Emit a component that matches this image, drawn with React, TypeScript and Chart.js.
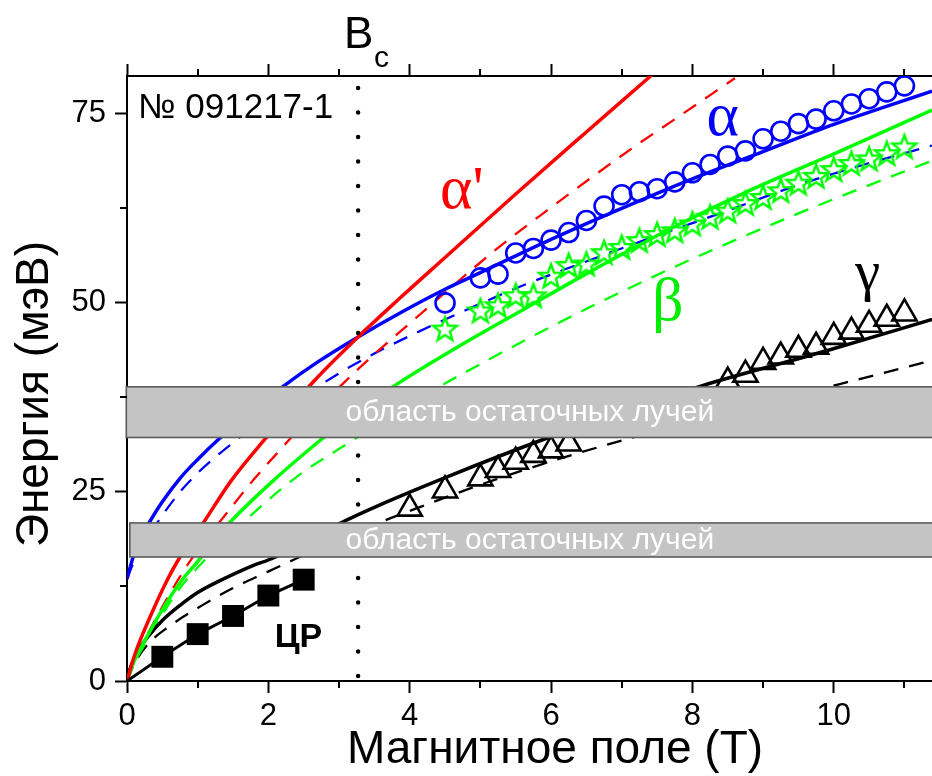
import React, { useEffect, useRef } from 'react';
import { Chart, registerables } from 'chart.js';
Chart.register(...registerables);

// ---------- axes ----------
const X_MIN = 0;
const X_MAX = 11.39;
const Y_MIN = 0;
const Y_MAX = 80;
const xMajorTicks = [0, 2, 4, 6, 8, 10];
const xMinorTicks = [1, 3, 5, 7, 9, 11];
const yMajorTicks = [0, 25, 50, 75];
const yMinorTicks = [12.5, 37.5, 62.5];
const BC_FIELD = 3.27;

// ---------- theory curves ----------
const alphaSolidX = [0, 0.1, 0.2, 0.35, 0.5, 0.75, 1.0, 1.3, 1.75, 2.2, 2.7, 3.27, 3.87, 4.5, 5.0, 6.0, 7.0, 8.0, 9.0, 10.0, 11.39];
const alphaSolidY = [13.5, 16.8, 19.0, 21.5, 23.7, 26.8, 29.3, 32.0, 35.6, 38.9, 42.2, 45.5, 48.7, 51.8, 54.0, 58.4, 62.5, 66.4, 70.0, 73.6, 78.0];

const alphaDashX = [0, 0.1, 0.25, 0.5, 0.75, 1.0, 1.25, 1.5, 2.0, 2.69, 3.11, 3.5, 4.06, 4.5, 5.0, 5.6, 6.65, 7.5, 8.5, 9.5, 10.4, 11.39];
const alphaDashY = [13.5, 15.8, 18.3, 21.9, 25.0, 27.5, 29.6, 31.5, 35.2, 38.9, 41.3, 43.3, 45.9, 47.8, 49.9, 52.3, 56.0, 58.9, 62.2, 65.6, 68.2, 70.8];

const alphaPrimeSolidX = [0, 0.1, 0.2, 0.37, 0.55, 0.75, 1.08, 1.46, 1.98, 2.64, 3.27, 3.87, 4.5, 5.5, 6.5, 7.41, 7.7];
const alphaPrimeSolidY = [0, 3.2, 5.7, 9.4, 13.0, 16.4, 20.9, 26.3, 32.3, 39.6, 45.5, 50.7, 56.0, 64.4, 72.6, 80.0, 82.3];

const alphaPrimeDashX = [0, 0.1, 0.25, 0.5, 0.75, 1.0, 1.36, 1.79, 2.17, 2.7, 3.3, 4.1, 5.24, 5.94, 7.17, 7.69, 8.6];
const alphaPrimeDashY = [0, 2.8, 5.5, 9.8, 13.8, 17.3, 21.6, 26.6, 30.6, 36.0, 41.5, 48.1, 57.2, 62.2, 70.6, 73.9, 79.7];

const betaSolidX = [0, 0.1, 0.25, 0.51, 0.75, 1.0, 1.41, 2.0, 2.73, 3.3, 3.91, 4.72, 5.66, 6.51, 7.69, 8.82, 10.1, 11.39];
const betaSolidY = [0, 2.6, 5.3, 9.6, 13.0, 15.8, 20.5, 25.9, 31.8, 36.0, 39.8, 44.4, 49.4, 53.9, 59.8, 64.9, 70.1, 75.5];

const betaDashX = [0, 0.1, 0.25, 0.5, 0.75, 1.0, 1.4, 2.17, 2.55, 3.02, 3.8, 4.53, 4.9, 5.7, 6.65, 7.64, 8.26, 9.44, 10.4, 11.39];
const betaDashY = [0, 2.3, 4.8, 8.8, 12.3, 15.0, 18.8, 25.3, 28.0, 30.8, 35.4, 39.5, 41.4, 45.4, 49.9, 54.3, 56.9, 61.6, 65.2, 68.8];

const gammaSolidX = [0, 0.05, 0.15, 0.3, 0.5, 0.75, 1.0, 1.3, 1.79, 2.0, 2.3, 3.0, 3.58, 4.53, 5.85, 7.0, 8.12, 9.91, 11.39];
const gammaSolidY = [0, 1.8, 3.9, 5.9, 8.0, 10.0, 11.7, 13.2, 15.3, 16.0, 17.3, 20.8, 23.3, 27.0, 31.8, 35.6, 39.0, 43.7, 47.8];

const gammaDashX = [0, 0.1, 0.3, 0.61, 1.08, 1.46, 1.98, 2.35, 3.0, 4.2, 5.2, 6.23, 7.08, 8.5, 10.1, 11.39];
const gammaDashY = [0, 2.2, 4.9, 7.3, 10.1, 12.1, 14.4, 16.0, 18.8, 23.2, 26.6, 29.7, 32.0, 35.6, 39.3, 42.4];

// ---------- experimental points ----------
const alphaExpX = [4.5, 5.0, 5.25, 5.5, 5.75, 6.0, 6.25, 6.5, 6.75, 7.0, 7.25, 7.5, 7.75, 8.0, 8.25, 8.5, 8.75, 9.0, 9.25, 9.5, 9.75, 10.0, 10.25, 10.5, 10.75, 11.0];
const alphaExpY = [50.0, 53.3, 53.8, 56.6, 57.2, 58.3, 59.3, 60.9, 62.8, 64.3, 64.7, 65.1, 66.0, 67.2, 68.3, 69.4, 70.1, 71.7, 72.7, 73.7, 74.3, 75.4, 76.3, 77.0, 77.9, 78.7];

const betaExpX = [4.5, 5.0, 5.25, 5.5, 5.75, 6.0, 6.25, 6.5, 6.75, 7.0, 7.25, 7.5, 7.75, 8.0, 8.25, 8.5, 8.75, 9.0, 9.25, 9.5, 9.75, 10.0, 10.25, 10.5, 10.75, 11.0];
const betaExpY = [46.6, 49.0, 49.7, 51.0, 51.0, 53.6, 55.0, 55.2, 56.7, 57.4, 58.3, 59.1, 59.6, 60.5, 61.4, 62.2, 63.2, 64.0, 64.9, 65.9, 66.8, 67.7, 68.5, 69.1, 69.8, 70.7];

const gammaExpX = [4.0, 4.5, 5.0, 5.25, 5.5, 5.75, 6.0, 6.25, 8.5, 8.75, 9.0, 9.25, 9.5, 9.75, 10.0, 10.25, 10.5, 10.75, 11.0];
const gammaExpY = [22.8, 25.2, 26.8, 27.9, 29.0, 29.9, 30.5, 31.4, 39.6, 40.5, 42.2, 42.9, 43.8, 44.2, 45.5, 46.2, 47.1, 47.9, 48.6];

const crX = [0, 0.5, 1.0, 1.5, 2.0, 2.5];
const crY = [0, 3.2, 6.2, 8.6, 11.3, 13.4];

// ---------- reststrahlen bands ----------
const bandStartX = [-0.01, 0.04];
const bandLowY = [32.2, 16.4];
const bandHighY = [38.9, 20.9];
const bandLabel = 'область остаточных лучей';
const bandLabelX = 5.7;

// ---------- text ----------
const SANS = "'Liberation Sans', Arial, sans-serif";
const SERIF = "'Liberation Serif', 'Times New Roman', serif";

const zip = (xs: number[], ys: number[]) => xs.map((x, i) => ({ x, y: ys[i] }));

function makeStar(color: string, R: number, lw: number) {
  const size = Math.ceil(2 * R + 2 * lw + 2);
  const c = document.createElement('canvas');
  c.width = size;
  c.height = size;
  const ctx = c.getContext('2d')!;
  const cx = size / 2;
  const cy = size / 2 + R * 0.1;
  const r = R * 0.42;
  ctx.beginPath();
  for (let i = 0; i < 10; i++) {
    const a = -Math.PI / 2 + (i * Math.PI) / 5;
    const rad = i % 2 === 0 ? R : r;
    const px = cx + rad * Math.cos(a);
    const py = cy + rad * Math.sin(a);
    if (i === 0) ctx.moveTo(px, py);
    else ctx.lineTo(px, py);
  }
  ctx.closePath();
  ctx.lineJoin = 'miter';
  ctx.lineWidth = lw;
  ctx.strokeStyle = color;
  ctx.stroke();
  return c;
}

const overlayPlugin = {
  id: 'overlay',
  afterDatasetsDraw(chart: any) {
    const { ctx, scales } = chart;
    const x = scales.x;
    const y = scales.y;
    ctx.save();
    for (let i = 0; i < bandStartX.length; i++) {
      const x0 = x.getPixelForValue(bandStartX[i]);
      const x1 = chart.width + 10;
      const y0 = y.getPixelForValue(bandHighY[i]);
      const y1 = y.getPixelForValue(bandLowY[i]);
      ctx.fillStyle = '#c4c4c4';
      ctx.fillRect(x0, y0, x1 - x0, y1 - y0);
      ctx.strokeStyle = '#5c5c5c';
      ctx.lineWidth = 1.6;
      ctx.strokeRect(x0, y0, x1 - x0, y1 - y0);
      ctx.fillStyle = '#ffffff';
      ctx.font = `30px ${SANS}`;
      ctx.textAlign = 'center';
      ctx.textBaseline = 'middle';
      ctx.fillText(bandLabel, x.getPixelForValue(bandLabelX), (y0 + y1) / 2 + 1);
    }
    ctx.restore();
  },
  afterDraw(chart: any) {
    const { ctx, scales, chartArea } = chart;
    const x = scales.x;
    const y = scales.y;
    ctx.save();
    // minor ticks
    ctx.strokeStyle = '#000';
    ctx.lineWidth = 2;
    ctx.beginPath();
    for (const v of xMinorTicks) {
      const px = Math.round(x.getPixelForValue(v));
      ctx.moveTo(px, chartArea.bottom);
      ctx.lineTo(px, chartArea.bottom + 7);
      ctx.moveTo(px, chartArea.top);
      ctx.lineTo(px, chartArea.top - 7);
    }
    for (const v of yMinorTicks) {
      const py = Math.round(y.getPixelForValue(v));
      ctx.moveTo(chartArea.left, py);
      ctx.lineTo(chartArea.left - 7, py);
    }
    ctx.stroke();

    // axis titles
    ctx.fillStyle = '#000';
    ctx.font = `46px ${SANS}`;
    ctx.textAlign = 'center';
    ctx.textBaseline = 'alphabetic';
    ctx.fillText('Магнитное поле (Т)', 555, 763);
    ctx.save();
    ctx.translate(48, 394);
    ctx.rotate(-Math.PI / 2);
    ctx.fillText('Энергия (мэВ)', 0, 0);
    ctx.restore();

    // B_c label
    ctx.textAlign = 'left';
    ctx.font = `44px ${SANS}`;
    const bcx = x.getPixelForValue(BC_FIELD) - 14;
    ctx.fillText('B', bcx, 48);
    ctx.font = `30px ${SANS}`;
    ctx.fillText('c', bcx + 30, 67);

    // sample number
    ctx.font = `35px ${SANS}`;
    ctx.fillText('№ 091217-1', chartArea.left + 11, 118);

    // branch labels
    ctx.font = `62px ${SERIF}`;
    ctx.fillStyle = '#ff0000';
    ctx.fillText("α'", x.getPixelForValue(4.43), y.getPixelForValue(62.5));
    ctx.fillStyle = '#0000ff';
    ctx.fillText('α', x.getPixelForValue(8.2), y.getPixelForValue(72.2));
    ctx.fillStyle = '#00ee00';
    ctx.fillText('β', x.getPixelForValue(7.43), y.getPixelForValue(47.7));
    ctx.fillStyle = '#000';
    ctx.font = `57px ${SERIF}`;
    ctx.fillText('γ', x.getPixelForValue(10.3), y.getPixelForValue(51.7));
    ctx.font = `bold 34px ${SANS}`;
    ctx.fillText('ЦР', x.getPixelForValue(2.09), y.getPixelForValue(4.5));
    ctx.restore();
  },
};

export default function App() {
  const ref = useRef<HTMLCanvasElement>(null);
  useEffect(() => {
    const star = makeStar('#00ff00', 12.5, 2.4);
    const line = (data: any, color: string, width: number, dash: number[] | null, order: number) => ({
      data,
      borderColor: color,
      borderWidth: width,
      borderDash: dash || [],
      pointRadius: 0,
      fill: false,
      cubicInterpolationMode: 'monotone',
      order,
    });
    const tickFont = { family: SANS, size: 31 };
    const setXTicks = (s: any) => {
      s.ticks = xMajorTicks.map((v) => ({ value: v }));
    };
    const fitX = (h: number) => (s: any) => {
      s.height = h;
      s.paddingLeft = 0;
      s.paddingRight = 0;
    };
    const chart = new Chart(ref.current!, {
      type: 'line',
      data: {
        datasets: [
          {
            data: zip(alphaExpX, alphaExpY),
            showLine: false,
            pointStyle: 'circle',
            pointRadius: 9.5,
            pointBorderWidth: 2.6,
            pointBorderColor: '#0000ff',
            pointBackgroundColor: 'rgba(0,0,0,0)',
            order: 1,
          },
          {
            data: zip(betaExpX, betaExpY),
            showLine: false,
            pointStyle: star,
            pointRadius: 12,
            order: 1,
          },
          {
            data: zip(gammaExpX, gammaExpY),
            showLine: false,
            pointStyle: 'triangle',
            pointRadius: 14,
            pointBorderWidth: 2.6,
            pointBorderColor: '#000',
            pointBackgroundColor: 'rgba(0,0,0,0)',
            order: 1,
          },
          {
            data: zip(crX, crY),
            borderColor: '#000',
            borderWidth: 3,
            tension: 0,
            pointStyle: 'rect',
            pointRadius: (c: any) => (c.dataIndex === 0 ? 0 : 15.5),
            pointBorderWidth: 0,
            pointBackgroundColor: '#000',
            order: 2,
          },
          line(zip(alphaPrimeSolidX, alphaPrimeSolidY), '#ff0000', 3.5, null, 5),
          line(zip(alphaPrimeDashX, alphaPrimeDashY), '#ff0000', 2.3, [15, 11], 6),
          line(zip(alphaSolidX, alphaSolidY), '#0000ff', 3.5, null, 5),
          line(zip(alphaDashX, alphaDashY), '#0000ff', 2.3, [15, 11], 6),
          line(zip(betaSolidX, betaSolidY), '#00ff00', 3.5, null, 5),
          line(zip(betaDashX, betaDashY), '#00ff00', 2.3, [15, 11], 6),
          line(zip(gammaSolidX, gammaSolidY), '#000000', 3.5, null, 5),
          line(zip(gammaDashX, gammaDashY), '#000000', 2.3, [15, 11], 6),
          {
            data: [
              { x: BC_FIELD, y: Y_MIN },
              { x: BC_FIELD, y: Y_MAX },
            ],
            borderColor: '#000',
            borderWidth: 4.5,
            borderDash: [0, 24.5],
            borderDashOffset: 19.5,
            borderCapStyle: 'round',
            pointRadius: 0,
            order: 3,
          },
        ] as any,
      },
      options: {
        animation: false,
        responsive: false,
        layout: { padding: 0, autoPadding: false },
        plugins: { legend: { display: false }, tooltip: { enabled: false } },
        scales: {
          x: {
            type: 'linear',
            position: 'bottom',
            min: X_MIN,
            max: X_MAX,
            afterFit: fitX(95),
            afterBuildTicks: setXTicks,
            ticks: { font: tickFont, color: '#000', padding: 5, maxRotation: 0, autoSkip: false },
            grid: { drawOnChartArea: false, drawTicks: true, tickLength: 12, tickWidth: 2, tickColor: '#000' },
            border: { display: true, color: '#000', width: 2 },
          },
          x2: {
            type: 'linear',
            axis: 'x',
            position: 'top',
            min: X_MIN,
            max: X_MAX,
            afterFit: fitX(76),
            afterBuildTicks: setXTicks,
            ticks: { display: false },
            grid: { drawOnChartArea: false, drawTicks: true, tickLength: 12, tickWidth: 2, tickColor: '#000' },
            border: { display: true, color: '#000', width: 2 },
          },
          y: {
            type: 'linear',
            position: 'left',
            min: Y_MIN,
            max: Y_MAX,
            afterFit: (s: any) => {
              s.width = 127;
              s.paddingTop = 0;
              s.paddingBottom = 0;
            },
            afterBuildTicks: (s: any) => {
              s.ticks = yMajorTicks.map((v) => ({ value: v }));
            },
            ticks: { font: tickFont, color: '#000', padding: 9 },
            grid: { drawOnChartArea: false, drawTicks: true, tickLength: 12, tickWidth: 2, tickColor: '#000' },
            border: { display: true, color: '#000', width: 2 },
          },
        },
      } as any,
      plugins: [overlayPlugin],
    });
    return () => chart.destroy();
  }, []);
  return (
    <div style={{ position: 'absolute', left: 0, top: 0, width: 932, height: 776, background: '#fff' }}>
      <canvas ref={ref} width={932} height={776} style={{ display: 'block', width: 932, height: 776 }} />
    </div>
  );
}
